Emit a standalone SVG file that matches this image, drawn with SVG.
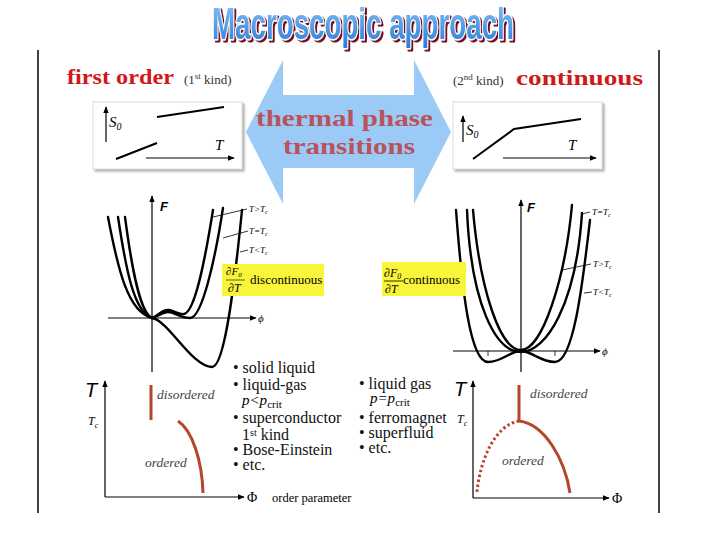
<svg xmlns="http://www.w3.org/2000/svg" width="720" height="540" viewBox="0 0 720 540">
<defs>
<linearGradient id="tg" x1="0" y1="0" x2="0" y2="1">
<stop offset="0" stop-color="#8cc8fa"/>
<stop offset="1" stop-color="#2a78d6"/>
</linearGradient>
<marker id="ah" viewBox="0 0 10 10" refX="9" refY="5" markerWidth="7" markerHeight="7" orient="auto" markerUnits="userSpaceOnUse">
<path d="M0,1 L10,5 L0,9 Z" fill="#000"/>
</marker>
<filter id="sh" x="-10%" y="-10%" width="130%" height="130%">
<feDropShadow dx="2" dy="2" stdDeviation="1.2" flood-color="#888" flood-opacity="0.7"/>
</filter>
<filter id="tsh" x="-5%" y="-20%" width="110%" height="150%">
<feDropShadow dx="2" dy="2" stdDeviation="0.3" flood-color="#7a1020" flood-opacity="1"/>
</filter>
</defs>
<style>
.ser{font-family:"Liberation Serif","Times New Roman",serif;}
.it{font-family:"Liberation Serif","Times New Roman",serif;font-style:italic;}
.ax{stroke:#000;stroke-width:1.2;fill:none;}
.cv{stroke:#000;stroke-width:2.4;fill:none;stroke-linecap:round;}
.ld{stroke:#000;stroke-width:0.8;fill:none;}
.red{stroke:#b5462c;stroke-width:3;fill:none;}
.bl{font-family:"Liberation Serif","Times New Roman",serif;font-size:16px;fill:#111;}
.lab{font-family:"Liberation Serif","Times New Roman",serif;font-style:italic;font-size:9px;fill:#000;}
.phase{font-family:"Liberation Serif","Times New Roman",serif;font-style:italic;font-size:13.5px;fill:#444;}
</style>
<rect width="720" height="540" fill="#fff"/>

<g id="title">
<text x="212" y="39" font-family="Liberation Sans, Arial, sans-serif" font-weight="bold" font-size="45" textLength="302" lengthAdjust="spacingAndGlyphs" fill="url(#tg)" stroke="#fff" stroke-width="3" stroke-linejoin="round" paint-order="stroke" filter="url(#tsh)">Macroscopic approach</text>
</g>

<g id="frame">
<line x1="38" y1="50" x2="38" y2="513" stroke="#000" stroke-width="1.5"/>
<line x1="659" y1="50" x2="659" y2="513" stroke="#000" stroke-width="1.5"/>
</g>

<g id="center-arrow">
<polygon points="246,132 283,60 283,95 414,95 414,60 451,132 414,204 414,168 283,168 283,204" fill="#9ccaf6"/>
<text x="256" y="126" class="ser" font-weight="bold" font-size="23" fill="#b9525a" textLength="177" lengthAdjust="spacingAndGlyphs">thermal phase</text>
<text x="283" y="154" class="ser" font-weight="bold" font-size="23" fill="#b9525a" textLength="132" lengthAdjust="spacingAndGlyphs">transitions</text>
</g>

<g id="first-order-header">
<text x="67" y="84" class="ser" font-weight="bold" font-size="21" fill="#d01818" textLength="107" lengthAdjust="spacingAndGlyphs">first order</text>
<text x="184" y="84" class="ser" font-size="13" fill="#333">(1<tspan font-size="9" dy="-5">st</tspan><tspan dy="5"> kind)</tspan></text>
</g>

<g id="continuous-header">
<text x="453" y="85" class="ser" font-size="13" fill="#333">(2<tspan font-size="9" dy="-5">nd</tspan><tspan dy="5"> kind)</tspan></text>
<text x="516" y="85" class="ser" font-weight="bold" font-size="21" fill="#d01818" textLength="127" lengthAdjust="spacingAndGlyphs">continuous</text>
</g>

<g id="entropy-first">
<rect x="93" y="102" width="149" height="67" fill="#fff" stroke="#ddd" stroke-width="1" filter="url(#sh)"/>
<line x1="106" y1="142" x2="106" y2="107" class="ax" marker-end="url(#ah)"/>
<text x="109" y="127" class="it" font-size="15">S<tspan font-size="10" dy="3">0</tspan></text>
<line x1="157" y1="117" x2="224" y2="107" stroke="#000" stroke-width="2"/>
<line x1="116" y1="159" x2="157" y2="143" stroke="#000" stroke-width="2"/>
<line x1="146" y1="158" x2="234" y2="158" class="ax" marker-end="url(#ah)"/>
<text x="215" y="150" class="it" font-size="15">T</text>
</g>

<g id="entropy-continuous">
<rect x="453" y="102" width="149" height="67" fill="#fff" stroke="#ddd" stroke-width="1" filter="url(#sh)"/>
<line x1="463" y1="142" x2="463" y2="116" class="ax" marker-end="url(#ah)"/>
<text x="466" y="135" class="it" font-size="15">S<tspan font-size="10" dy="3">0</tspan></text>
<polyline points="473,159 514,129 581,119" fill="none" stroke="#000" stroke-width="2"/>
<line x1="503" y1="158" x2="596" y2="158" class="ax" marker-end="url(#ah)"/>
<text x="568" y="150" class="it" font-size="15">T</text>
</g>

<g id="free-energy-first">
<line x1="152" y1="372" x2="152" y2="196" class="ax" marker-end="url(#ah)"/>
<line x1="108" y1="318" x2="256" y2="318" class="ax" marker-end="url(#ah)"/>
<text x="160" y="211" font-family="Liberation Sans, Arial, sans-serif" font-style="italic" font-weight="bold" font-size="13">F</text>
<text x="258" y="322" class="it" font-size="11">ϕ</text>
<path class="cv" d="M108,217 C118,270 128,312 152,318"/>
<path class="cv" d="M118,217 C126,270 134,312 152,318"/>
<path class="cv" d="M125,217 C132,270 140,313 152,318"/>
<path class="cv" d="M152,318 C158,316 162,309 169,310 C175,311 178,315 184,314 C195,312 205,260 213,210"/>
<path class="cv" d="M152,318 C158,317 162,312 168,312 C175,312 180,318 190,318 C202,318 215,260 223,208"/>
<path class="cv" d="M152,318 C168,320 192,367 212,367 C225,367 235,280 242,210"/>
<line x1="213" y1="217" x2="247" y2="209" class="ld"/>
<line x1="223" y1="238" x2="248" y2="231" class="ld"/>
<line x1="240" y1="252" x2="248" y2="250" class="ld"/>
<text x="249" y="212" class="lab">T&gt;T<tspan font-size="6" dy="2">c</tspan></text>
<text x="249" y="234" class="lab">T=T<tspan font-size="6" dy="2">c</tspan></text>
<text x="249" y="253" class="lab">T&lt;T<tspan font-size="6" dy="2">c</tspan></text>
</g>

<g id="derivative-discontinuous">
<rect x="222" y="264" width="102" height="32" fill="#f8f53a"/>
<text x="226" y="275" class="it" font-size="11">∂F<tspan font-size="7" dy="2">0</tspan></text>
<line x1="226" y1="280" x2="245" y2="280" stroke="#000" stroke-width="0.6"/>
<text x="228" y="292" class="it" font-size="12">∂T</text>
<text x="250" y="284" class="ser" font-size="13">discontinuous</text>
</g>

<g id="free-energy-continuous">
<line x1="521" y1="372" x2="521" y2="200" class="ax" marker-end="url(#ah)"/>
<line x1="453" y1="351" x2="600" y2="351" class="ax" marker-end="url(#ah)"/>
<text x="527" y="212" font-family="Liberation Sans, Arial, sans-serif" font-style="italic" font-weight="bold" font-size="13">F</text>
<text x="602" y="355" class="it" font-size="11">ϕ</text>
<line x1="488" y1="351" x2="488" y2="356" class="ld"/>
<line x1="555" y1="351" x2="555" y2="356" class="ld"/>
<path class="cv" d="M473,210 C480,290 500,350 521,350 C542,350 565,280 572,205"/>
<path class="cv" d="M467,210 C471,305 496,352 521,352 C546,352 576,305 582,213"/>
<path class="cv" d="M456,210 C462,290 470,362 488,362 C502,362 510,351 521,351 C532,351 540,362 555,362 C573,362 582,290 590,220"/>
<line x1="582" y1="214" x2="590" y2="212" class="ld"/>
<line x1="562" y1="270" x2="591" y2="264" class="ld"/>
<line x1="584" y1="293" x2="592" y2="292" class="ld"/>
<text x="592" y="215" class="lab">T=T<tspan font-size="6" dy="2">c</tspan></text>
<text x="593" y="267" class="lab">T&gt;T<tspan font-size="6" dy="2">c</tspan></text>
<text x="593" y="295" class="lab">T&lt;T<tspan font-size="6" dy="2">c</tspan></text>
</g>

<g id="derivative-continuous">
<rect x="382" y="262" width="84" height="34" fill="#f8f53a"/>
<text x="384" y="277" class="it" font-size="12">∂F<tspan font-size="8" dy="2">0</tspan></text>
<line x1="384" y1="281" x2="403" y2="281" stroke="#000" stroke-width="0.8"/>
<text x="385" y="293" class="it" font-size="12">∂T</text>
<text x="403" y="284" class="ser" font-size="13">continuous</text>
</g>

<g id="phase-diagram-first">
<line x1="105" y1="497" x2="105" y2="381" class="ax" marker-end="url(#ah)"/>
<line x1="105" y1="497" x2="244" y2="497" class="ax" marker-end="url(#ah)"/>
<text x="85" y="397" font-family="Liberation Sans, Arial, sans-serif" font-style="italic" font-size="20">T</text>
<text x="88" y="425" class="it" font-size="12">T<tspan font-size="8" dy="3">c</tspan></text>
<line x1="151" y1="385" x2="151" y2="420" class="red"/>
<path class="red" d="M178,421 C192,430 202,460 203,493"/>
<text x="157" y="399" class="phase">disordered</text>
<text x="145" y="467" class="phase">ordered</text>
<text x="247" y="502" class="ser" font-size="14">Φ</text>
<text x="272" y="502" class="ser" font-size="12.5">order parameter</text>
</g>

<g id="examples-first">
<text x="233" y="373" class="bl">• solid liquid</text>
<text x="233" y="390" class="bl">• liquid-gas</text>
<text x="242" y="405" class="it" font-size="15">p&lt;p<tspan class="ser" font-style="normal" font-size="11" dy="3">crit</tspan></text>
<text x="233" y="423" class="bl">• superconductor</text>
<text x="242" y="440" class="bl">1<tspan font-size="10" dy="-4">st</tspan><tspan dy="4"> kind</tspan></text>
<text x="233" y="455" class="bl">• Bose-Einstein</text>
<text x="233" y="470" class="bl">• etc.</text>
</g>

<g id="examples-continuous">
<text x="359" y="389" class="bl">• liquid gas</text>
<text x="370" y="403" class="it" font-size="15">p=p<tspan class="ser" font-style="normal" font-size="11" dy="3">crit</tspan></text>
<text x="359" y="423" class="bl">• ferromagnet</text>
<text x="359" y="438" class="bl">• superfluid</text>
<text x="359" y="453" class="bl">• etc.</text>
</g>

<g id="phase-diagram-continuous">
<line x1="473" y1="498" x2="473" y2="381" class="ax" marker-end="url(#ah)"/>
<line x1="473" y1="498" x2="609" y2="498" class="ax" marker-end="url(#ah)"/>
<text x="454" y="396" font-family="Liberation Sans, Arial, sans-serif" font-style="italic" font-size="20">T</text>
<text x="457" y="423" class="it" font-size="12">T<tspan font-size="8" dy="3">c</tspan></text>
<line x1="519" y1="385" x2="519" y2="421" class="red"/>
<path class="red" d="M519,421 C545,424 565,460 570,493"/>
<path class="red" d="M519,421 C495,425 480,460 477,492" stroke-dasharray="2.5,2.5"/>
<text x="530" y="398" class="phase">disordered</text>
<text x="502" y="465" class="phase">ordered</text>
<text x="612" y="503" class="ser" font-size="14">Φ</text>
</g>
</svg>
